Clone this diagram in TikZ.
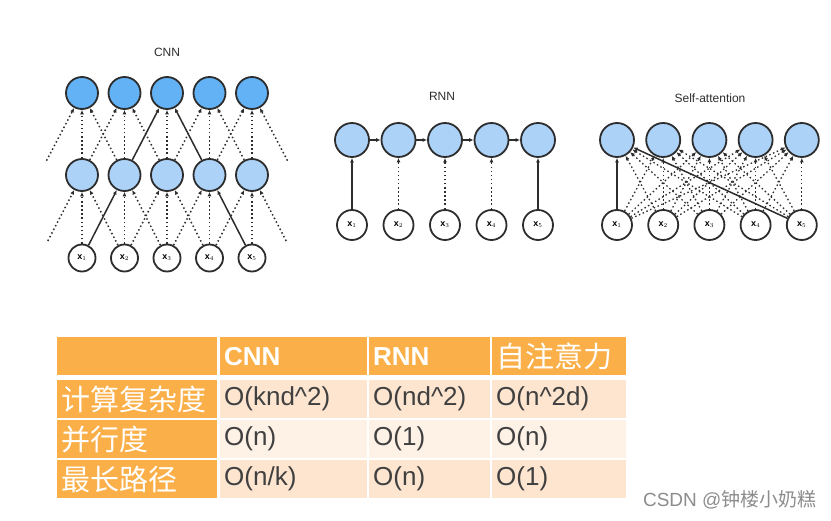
\documentclass[tikz,border=0pt]{standalone}
\usepackage{fontspec}
\setmainfont{Liberation Sans}
\newfontfamily\cjk{Noto Sans CJK SC}
\usetikzlibrary{arrows.meta,positioning}
\definecolor{deepblue}{RGB}{98,178,245}
\definecolor{paleblue}{RGB}{172,210,248}
\definecolor{rimgray}{RGB}{45,45,45}
\definecolor{tabhead}{RGB}{250,175,72}
\definecolor{tabrowa}{RGB}{253,229,208}
\definecolor{tabrowb}{RGB}{254,241,230}
\definecolor{tabtext}{RGB}{64,64,64}
\newcommand{\bigtxt}{\fontsize{26}{30}\selectfont}
\newcommand{\cjktxt}{\cjk\fontsize{29}{32}\selectfont}

\begin{document}
\begin{tikzpicture}[x=1pt,y=-1pt,on grid,
  unit/.style={draw=rimgray,circle,line width=1.8pt,minimum size=32pt,inner sep=0pt},
  toprow/.style={unit,fill=deepblue},
  midrow/.style={unit,fill=paleblue},
  inrow/.style={unit,fill=white,minimum size=27pt,font=\small},
  ghost/.style={circle,minimum size=#1,inner sep=0pt},
  dotarr/.style={-{Latex[length=4.5pt,width=4pt]},rimgray,line width=1.5pt,dash pattern=on 1.5pt off 2.6pt},
  solarr/.style={-{Latex[length=4.5pt,width=4pt]},rimgray,line width=1.5pt},
  caption/.style={font=\fontsize{12}{14}\selectfont,text=rimgray},
  cell/.style={anchor=north west,minimum height=38pt,inner xsep=4pt,inner ysep=0pt,text width=#1,align=left},
  headcell/.style={cell=#1,fill=tabhead,text=white},
  bodycell/.style={cell=#1,text=tabtext,font=\bigtxt}]
  \useasboundingbox (0,0) rectangle (831,521);

  % CNN
  \node[caption] (cnntitle) at (167,52) {CNN};
  \node[toprow] (t1) at (82,93) {};
  \node[midrow] (m1) [below=82pt of t1] {};
  \node[inrow] (x1) [below=83pt of m1] {$\mathbf{x}_1$};
  \foreach \i [count=\j from 2] in {1,...,4} {
    \node[toprow] (t\j) [right=42.5pt of t\i] {};
    \node[midrow] (m\j) [right=42.5pt of m\i] {};
    \node[inrow] (x\j) [right=42.5pt of x\i] {$\mathbf{x}_\j$};
  }
  % padding units outside the window
  \node[ghost=32pt] (m0) [left=43pt of m1] {};
  \node[ghost=32pt] (m6) [right=43pt of m5] {};
  \node[ghost=38pt] (x0) [left=43pt of x1] {};
  \node[ghost=38pt] (x6) [right=43pt of x5] {};

  \foreach \u/\v in {m0/t1,m1/t1,m2/t1,m1/t2,m2/t2,m3/t2,m3/t3,m3/t4,m4/t4,m5/t4,m4/t5,m5/t5,m6/t5,
      x0/m1,x1/m1,x2/m1,x2/m2,x3/m2,x2/m3,x3/m3,x4/m3,x3/m4,x4/m4,x4/m5,x5/m5,x6/m5}
    \draw[dotarr] (\u) -- (\v);
  \foreach \u/\v in {x1/m2,m2/t3,x5/m4,m4/t3}
    \draw[solarr] (\u) -- (\v);

  % RNN
  \node[caption] (rnntitle) at (442,96) {RNN};
  \node[midrow,minimum size=34pt] (h1) at (352,140) {};
  \node[inrow,minimum size=30pt] (r1) [below=85pt of h1] {$\mathbf{x}_1$};
  \foreach \i [count=\j from 2] in {1,...,4} {
    \node[midrow,minimum size=34pt] (h\j) [right=46.5pt of h\i] {};
    \node[inrow,minimum size=30pt] (r\j) [right=46.5pt of r\i] {$\mathbf{x}_\j$};
    \draw[solarr] (h\i) -- (h\j);
  }
  \foreach \i in {2,3,4}
    \draw[dotarr] (r\i) -- (h\i);
  \draw[solarr] (r1) -- (h1);
  \draw[solarr] (r5) -- (h5);

  % Self-attention
  \node[caption] (satitle) at (710,98) {Self-attention};
  \node[midrow,minimum size=34pt] (a1) at (617,140) {};
  \node[inrow,minimum size=30pt] (s1) [below=85pt of a1] {$\mathbf{x}_1$};
  \foreach \i [count=\j from 2] in {1,...,4} {
    \node[midrow,minimum size=34pt] (a\j) [right=46.2pt of a\i] {};
    \node[inrow,minimum size=30pt] (s\j) [right=46.2pt of s\i] {$\mathbf{x}_\j$};
  }
  \foreach \i in {2,3,4}
    \foreach \j in {1,...,5}
      \draw[dotarr,line width=1.3pt] (s\i) -- (a\j);
  \foreach \i in {1,5}
    \foreach \j in {2,...,5}
      \draw[dotarr,line width=1.3pt] (s\i) -- (a\j);
  \draw[solarr] (s1) -- (a1);
  \draw[solarr] (s5) -- (a1);

  % comparison table
  \node[headcell=152pt] (corner) at (57,337) {};
  \node[headcell=139pt,font=\bigtxt\bfseries] (hcnn) at (220,337) {CNN};
  \node[headcell=113pt,font=\bigtxt\bfseries] (hrnn) at (369,337) {RNN};
  \node[headcell=126pt,font=\cjktxt] (hsa) at (492,337) {自注意力};

  \node[headcell=152pt,font=\cjktxt] (c10) at (57,380) {计算复杂度};
  \node[bodycell=139pt,fill=tabrowa] (c11) at (220,380) {O(knd\^{}2)};
  \node[bodycell=113pt,fill=tabrowa] (c12) at (369,380) {O(nd\^{}2)};
  \node[bodycell=126pt,fill=tabrowa] (c13) at (492,380) {O(n\^{}2d)};

  \node[headcell=152pt,font=\cjktxt] (c20) at (57,420) {并行度};
  \node[bodycell=139pt,fill=tabrowb] (c21) at (220,420) {O(n)};
  \node[bodycell=113pt,fill=tabrowb] (c22) at (369,420) {O(1)};
  \node[bodycell=126pt,fill=tabrowb] (c23) at (492,420) {O(n)};

  \node[headcell=152pt,font=\cjktxt] (c30) at (57,460) {最长路径};
  \node[bodycell=139pt,fill=tabrowa] (c31) at (220,460) {O(n/k)};
  \node[bodycell=113pt,fill=tabrowa] (c32) at (369,460) {O(n)};
  \node[bodycell=126pt,fill=tabrowa] (c33) at (492,460) {O(1)};

  \node[anchor=east,text=black!45,font=\fontsize{19}{22}\selectfont] (mark) at (820,500) {CSDN @{\cjk 钟楼小奶糕}};
\end{tikzpicture}
\end{document}
